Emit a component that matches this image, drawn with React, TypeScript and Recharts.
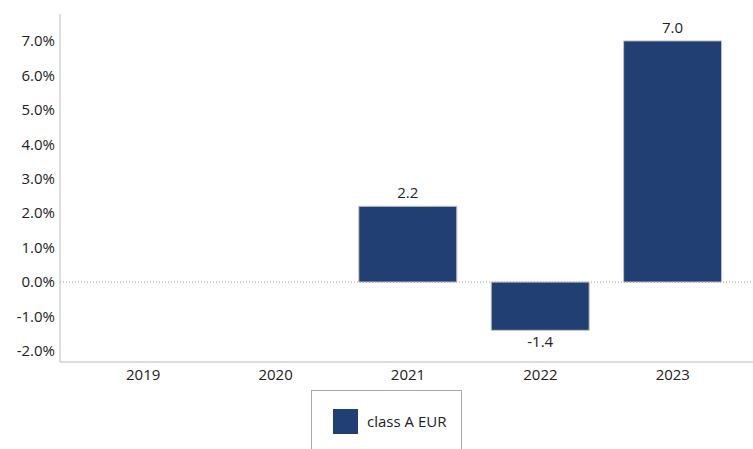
import React from 'react';
import {
    BarChart,
    Bar,
    XAxis,
    YAxis,
    ReferenceLine,
    Legend,
    LabelList,
} from 'recharts';

const years = ['2019', '2020', '2021', '2022', '2023'];
const classAEur: (number | null)[] = [null, null, 2.2, -1.4, 7.0];
const yTicks = [-2, -1, 0, 1, 2, 3, 4, 5, 6, 7];

const data = years.map((year, i) => ({ year, classAEur: classAEur[i] }));

const FONT = '"Open Sans", sans-serif';
const BAR_COLOR = '#213f73';

const ValueLabel = (props: any) => {
    const { x, y, width, height, value } = props;
    if (value === null || value === undefined) return null;
    const top = Math.min(y, y + height);
    const bottom = Math.max(y, y + height);
    const ty = value >= 0 ? top - 8 : bottom + 17;
    return (
        <text x={x + width / 2} y={ty} textAnchor="middle" fontSize={15} fontFamily={FONT} fill="#222">
            {Number(value).toFixed(1)}
        </text>
    );
};

const LegendBox = () => (
    <div
        style={{
            boxSizing: 'border-box',
            width: 151,
            height: 70,
            border: '1px solid #aaa',
            borderBottom: 'none',
            display: 'flex',
            alignItems: 'flex-start',
            paddingTop: 18,
            paddingLeft: 21,
            fontFamily: FONT,
            fontSize: 15,
            color: '#222',
        }}
    >
        <span style={{ width: 25, height: 25, background: BAR_COLOR, display: 'inline-block', marginRight: 9 }} />
        <span style={{ lineHeight: '24px' }}>class A EUR</span>
    </div>
);

export default function App() {
    return (
        <div style={{ position: 'absolute', left: 0, top: 0, width: 753, height: 449, background: '#fff' }}>
            <BarChart
                width={753}
                height={449}
                data={data}
                margin={{ top: 14, right: 0, bottom: 57, left: 0 }}
                barCategoryGap={17}
            >
                <XAxis
                    dataKey="year"
                    height={30}
                    stroke="#bbb"
                    tickLine={false}
                    tickSize={5}
                    tick={{ fill: '#222', fontSize: 15, fontFamily: FONT }}
                    padding={{ left: 17, right: 14 }}
                    interval={0}
                />
                <YAxis
                    width={60}
                    domain={[-2.32, 7.78]}
                    ticks={yTicks}
                    allowDataOverflow
                    stroke="#bbb"
                    tickLine={false}
                    tickSize={3}
                    tickMargin={2}
                    tickFormatter={(v: number) => `${v.toFixed(1)}%`}
                    tick={{ fill: '#222', fontSize: 15, fontFamily: FONT }}
                />
                <ReferenceLine y={0} stroke="#999" strokeDasharray="1 2" />
                <Legend
                    layout="horizontal"
                    verticalAlign="middle"
                    align="center"
                    content={() => <LegendBox />}
                    wrapperStyle={{ left: 311, top: 390, width: 151, height: 70 }}
                />
                <Bar dataKey="classAEur" name="class A EUR" fill={BAR_COLOR} stroke="#c4c4c4" strokeWidth={1} isAnimationActive={false}>
                    <LabelList dataKey="classAEur" content={ValueLabel} />
                </Bar>
            </BarChart>
        </div>
    );
}
